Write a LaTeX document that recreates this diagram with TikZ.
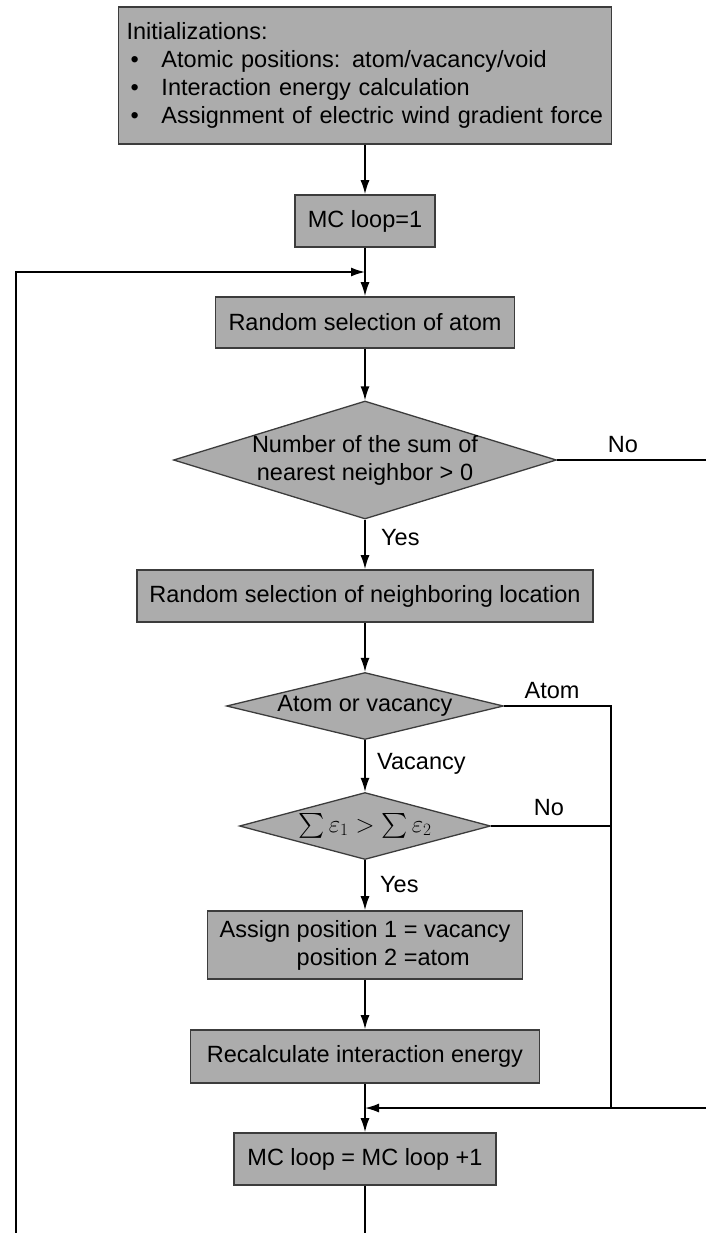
\documentclass[tikz,border=0pt]{standalone}
\usepackage{amsmath}
\usepackage{exscale}
\usepackage{fontspec}
\setmainfont{Liberation Sans}
\usetikzlibrary{shapes.geometric, arrows.meta}
\definecolor{boxgray}{RGB}{172,172,172}
\definecolor{edgegray}{RGB}{60,60,60}
\newcommand{\mcfont}{\fontsize{23.5}{28}\selectfont}
\newcommand{\initbul}{\makebox[35pt][l]{\hspace{4pt}\textbullet}}
\tikzset{
  procbox/.style={draw=edgegray, line width=1.6pt, fill=boxgray, inner sep=0pt, font=\mcfont},
  decbox/.style={diamond, draw=edgegray, line width=1.3pt, fill=boxgray, inner sep=0pt},
  flow/.style={line width=1.5pt, -{Latex[length=14pt,width=9pt]}},
  plain/.style={line width=1.5pt},
  lbl/.style={font=\mcfont, inner sep=0pt},
}

\begin{document}
\begin{tikzpicture}[x=1pt,y=-1pt]
    \useasboundingbox (0,0) rectangle (706,1233);

    \node[procbox, minimum width=493pt, minimum height=137pt, text width=477pt, align=left] (init) at (365,75.5)
      {Initializations:\\\initbul Atomic positions: atom/vacancy/void\\\initbul Interaction energy calculation\\\initbul Assignment of electric wind gradient force};
    \node[procbox, minimum width=140pt, minimum height=52pt] (mc1) at (365,221) {MC loop=1};
    \node[procbox, minimum width=299pt, minimum height=51pt] (sel1) at (365,322.5) {Random selection of atom};
    \node[decbox, minimum width=383pt, minimum height=118pt] (nn) at (365,460) {};%最近接の判定
    \node[lbl, align=center] (nntxt) at (nn) {Number of the sum of\\nearest neighbor > 0};
    \node[procbox, minimum width=456pt, minimum height=52pt] (sel2) at (365,596) {Random selection of neighboring location};
    \node[decbox, minimum width=277pt, minimum height=67pt] (av) at (365,706) {};%原子か空孔か
    \node[lbl] (avtxt) at (av) {Atom or vacancy};
    \node[decbox, minimum width=251pt, minimum height=67pt] (en) at (365,826) {};%エネルギー比較
    \node[lbl] (entxt) at (en) {\fontsize{26}{28}\selectfont$\textstyle\sum\varepsilon_1>\sum\varepsilon_2$};
    \node[procbox, minimum width=315pt, minimum height=68pt, align=left] (assign) at (365,945)
      {Assign position 1 = vacancy\\\phantom{Assign }position 2 =atom};
    \node[procbox, minimum width=349pt, minimum height=53pt] (recalc) at (365,1056.5) {Recalculate interaction energy};
    \node[procbox, minimum width=262pt, minimum height=52pt] (mc2) at (365,1159) {MC loop = MC loop +1};

    % 分岐のラベル
    \node[lbl] (no1) at (623,445) {No};
    \node[lbl, anchor=west] (yes1) at (381,538) {Yes};
    \node[lbl] (atom) at (552,691) {Atom};
    \node[lbl, anchor=west] (vac) at (377,764) {Vacancy};
    \node[lbl] (no2) at (549,808) {No};
    \node[lbl, anchor=west] (yes2) at (380,885) {Yes};

    \coordinate (loopin) at (16,1233);
    \coordinate (loopturn) at (16,272);
    \coordinate (loopjoin) at (365,272);
    \coordinate (exitpt) at (365,1233);
    \coordinate (nnout) at (706,460);
    \coordinate (busturn) at (611,706);
    \coordinate (busend) at (611,1108);
    \coordinate (busno) at (611,826);
    \coordinate (mergein) at (706,1108);
    \coordinate (mergejoin) at (365,1108);

    \draw[flow] (init) -- (mc1);
    \draw[flow] (mc1) -- (sel1);
    \draw[flow] (sel1) -- (nn);
    \draw[flow] (nn) -- (sel2);
    \draw[flow] (sel2) -- (av);
    \draw[flow] (av) -- (en);
    \draw[flow] (en) -- (assign);
    \draw[flow] (assign) -- (recalc);
    \draw[flow] (recalc) -- (mc2);
    \draw[plain] (mc2) -- (exitpt);
    \draw[flow] (loopin) -- (loopturn) -- (loopjoin);
    \draw[plain] (nn.east) -- (nnout);
    \draw[plain] (av.east) -- (busturn) -- (busend);
    \draw[plain] (en.east) -- (busno);
    \draw[flow] (mergein) -- (mergejoin);
\end{tikzpicture}
\end{document}
